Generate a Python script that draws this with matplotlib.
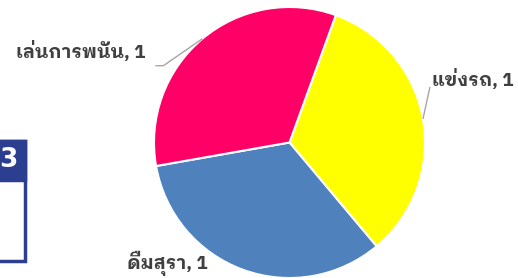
import numpy as np
import matplotlib
matplotlib.use("Agg")
import matplotlib.pyplot as plt
from matplotlib.patches import Rectangle

# data
labels = ["แข่งรถ", "ดื่มสุรา", "เล่นการพนัน"]
values = [1, 1, 1]
colors = ["#FFFF00", "#4F81BD", "#FF0066"]
box_number = "3"

W, H = 518, 278
thai = ["IBM Plex Sans Thai Looped", "DejaVu Sans"]

fig = plt.figure(figsize=(W / 100, H / 100), dpi=100)
ax = fig.add_axes([0, 0, 1, 1])

cx, cy, r = 289.5, H - 142.5, 135.5
wedges, _ = ax.pie(values, colors=colors, startangle=70, counterclock=False,
                   center=(cx, cy), radius=r, frame=True,
                   wedgeprops=dict(edgecolor="white", linewidth=1.5))
ax.set_xlim(0, W)
ax.set_ylim(0, H)
ax.set_axis_off()

# label anchor offsets relative to the wedge mid point on the rim, plus leader line bends
label_cfg = {
    0: dict(off=(9, 39), ha="left", line=[(7, 32)]),
    1: dict(off=(-36, 6), ha="right", line=None),
    2: dict(off=(-57, -13), ha="right", line=[(-39, -27), (-47, -27)]),
}
for i, w in enumerate(wedges):
    mid = np.deg2rad((w.theta1 + w.theta2) / 2)
    px, py = cx + r * np.cos(mid), cy + r * np.sin(mid)
    cfg = label_cfg[i]
    ax.text(px + cfg["off"][0], py + cfg["off"][1], f"{labels[i]}, {values[i]}",
            ha=cfg["ha"], va="center", fontsize=13.5, fontweight="bold",
            color="#404040", family=thai)
    if cfg["line"]:
        xs = [px] + [px + d[0] for d in cfg["line"]]
        ys = [py] + [py + d[1] for d in cfg["line"]]
        ax.plot(xs, ys, color="#A6A6A6", lw=1, solid_capstyle="butt")

# partial text box on the left
navy = "#2B3E8F"
ax.add_patch(Rectangle((-10, H - 261), 35, 120, facecolor="white",
                       edgecolor=navy, lw=2.5))
ax.add_patch(Rectangle((-10, H - 180), 35, 39, facecolor=navy,
                       edgecolor=navy, lw=2.5))
ax.text(18, H - 160, box_number, ha="right", va="center", fontsize=19,
        fontweight="bold", color="white")

fig.savefig("out.png", dpi=100)
